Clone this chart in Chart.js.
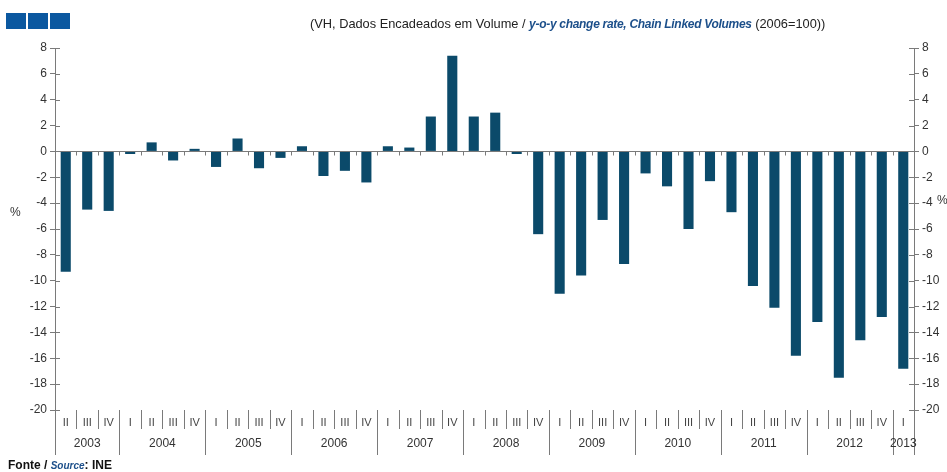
<!DOCTYPE html>
<html>
<head>
<meta charset="utf-8">
<script src="https://cdn.jsdelivr.net/npm/chart.js@4"></script>
<style>
  html, body { margin: 0; padding: 0; background: #fff; }
  #wrap { position: relative; width: 947px; height: 472px; font-family: "Liberation Sans", Arial, sans-serif; }
  #chart { position: absolute; left: 0; top: 0; }
  .logo { position: absolute; top: 13px; width: 20px; height: 16px; background: #0b58a0; }
  #head { position: absolute; left: 310px; top: 16px; font-size: 12.8px; color: #222; white-space: nowrap; }
  #head b { color: #1c4f8a; font-style: italic; font-size: 12px; letter-spacing: -0.3px; }
  #foot { position: absolute; left: 8px; top: 458px; font-size: 12px; font-weight: bold; color: #111; white-space: nowrap; }
  #foot i { color: #1c4f8a; font-size: 10px; }
  .pct { position: absolute; font-size: 12px; color: #333; }
</style>
</head>
<body>
<div id="wrap">
  <canvas id="chart" width="947" height="472"></canvas>
  <div class="logo" style="left:6px"></div>
  <div class="logo" style="left:28px"></div>
  <div class="logo" style="left:50px"></div>
  <div id="head">(VH, Dados Encadeados em Volume / <b>y-o-y change rate, Chain Linked Volumes</b> (2006=100))</div>
  <div class="pct" style="left:10px; top:205px">%</div>
  <div class="pct" style="left:937px; top:193px">%</div>
  <div id="foot">Fonte / <i>Source</i>: INE</div>
</div>
<script>
"use strict";

// ── Data ─────────────────────────────────────────────────────────────────────
const QUARTERS = [
  "II","III","IV",
  "I","II","III","IV",
  "I","II","III","IV",
  "I","II","III","IV",
  "I","II","III","IV",
  "I","II","III","IV",
  "I","II","III","IV",
  "I","II","III","IV",
  "I","II","III","IV",
  "I","II","III","IV",
  "I"
];
const YEARS = [
  "2003","2003","2003",
  "2004","2004","2004","2004",
  "2005","2005","2005","2005",
  "2006","2006","2006","2006",
  "2007","2007","2007","2007",
  "2008","2008","2008","2008",
  "2009","2009","2009","2009",
  "2010","2010","2010","2010",
  "2011","2011","2011","2011",
  "2012","2012","2012","2012",
  "2013"
];
const CHANGE_RATE = [
  -9.3, -4.5, -4.6,
  -0.2, 0.7, -0.7, 0.2,
  -1.2, 1.0, -1.3, -0.5,
  0.4, -1.9, -1.5, -2.4,
  0.4, 0.3, 2.7, 7.4,
  2.7, 3.0, -0.2, -6.4,
  -11.0, -9.6, -5.3, -8.7,
  -1.7, -2.7, -6.0, -2.3,
  -4.7, -10.4, -12.1, -15.8,
  -13.2, -17.5, -14.6, -12.8,
  -16.8
];

const AXIS = "#7a7a7a";
const FONT = "Liberation Sans, Arial, sans-serif";

// ── Extra axis decoration: zero line, crossing ticks, quarter/year rows ──────
const axisDecor = {
  id: "axisDecor",
  afterDraw(chart) {
    const { ctx, chartArea: a, scales } = chart;
    const x = scales.x, y = scales.y;
    const n = QUARTERS.length;
    const bound = i => i <= 0 ? a.left : i >= n ? a.right
      : (x.getPixelForValue(i - 1) + x.getPixelForValue(i)) / 2;

    ctx.save();
    ctx.strokeStyle = AXIS;
    ctx.lineWidth = 1;

    // zero line with small downward ticks between quarters
    const y0 = Math.round(y.getPixelForValue(0)) + 0.5;
    ctx.beginPath();
    ctx.moveTo(a.left, y0); ctx.lineTo(a.right, y0);
    for (let i = 1; i < n; i++) {
      const bx = Math.round(bound(i)) + 0.5;
      ctx.moveTo(bx, y0); ctx.lineTo(bx, y0 + 4);
    }
    ctx.stroke();

    // inner half of the y ticks (both sides)
    ctx.beginPath();
    y.ticks.forEach(t => {
      const py = Math.round(y.getPixelForValue(t.value)) + 0.5;
      ctx.moveTo(a.left, py); ctx.lineTo(a.left + 5, py);
      ctx.moveTo(a.right, py); ctx.lineTo(a.right - 5, py);
    });
    ctx.stroke();

    // quarter & year separators below the plot
    ctx.beginPath();
    for (let i = 0; i <= n; i++) {
      const bx = Math.round(bound(i)) + 0.5;
      const yearEdge = i === 0 || i === n || YEARS[i] !== YEARS[i - 1];
      ctx.moveTo(bx, a.bottom);
      ctx.lineTo(bx, yearEdge ? 455 : 429);
    }
    ctx.stroke();

    // quarter labels
    ctx.fillStyle = "#444";
    ctx.font = "11px " + FONT;
    ctx.textAlign = "center";
    ctx.textBaseline = "middle";
    QUARTERS.forEach((q, i) => ctx.fillText(q, x.getPixelForValue(i), 423));

    // year labels, centred on each year's group
    ctx.fillStyle = "#333";
    ctx.font = "12px " + FONT;
    let start = 0;
    for (let i = 1; i <= n; i++) {
      if (i === n || YEARS[i] !== YEARS[start]) {
        ctx.fillText(YEARS[start], (bound(start) + bound(i)) / 2, 444);
        start = i;
      }
    }
    ctx.restore();
  }
};

const yAxis = (position, width) => ({
  position,
  min: -20,
  max: 8,
  afterFit: s => { s.width = width; },
  border: { color: AXIS },
  grid: { drawOnChartArea: false, tickLength: 5, color: AXIS },
  ticks: { stepSize: 2, padding: 3, color: "#333", font: { size: 12, family: FONT } },
});

new Chart(document.getElementById("chart"), {
  type: "bar",
  data: {
    labels: QUARTERS.map((q, i) => q + " " + YEARS[i]),
    datasets: [{
      data: CHANGE_RATE,
      backgroundColor: "#0b4a6a",
      borderWidth: 0,
      barPercentage: 0.47,
      categoryPercentage: 1,
    }],
  },
  options: {
    responsive: false,
    animation: false,
    layout: { padding: { top: 48, bottom: 62, left: 0, right: 0 } },
    plugins: { legend: { display: false }, tooltip: { enabled: false } },
    scales: {
      x: { display: false },
      y: yAxis("left", 55),
      y2: yAxis("right", 33),
    },
  },
  plugins: [axisDecor],
});
</script>
</body>
</html>
